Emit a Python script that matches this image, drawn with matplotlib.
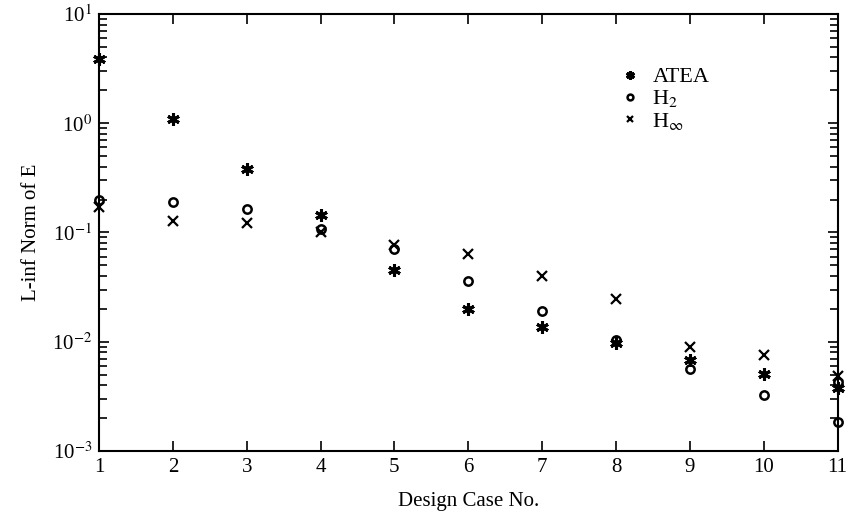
import matplotlib.pyplot as plt
from matplotlib.ticker import LogLocator, NullFormatter

plt.rcParams.update({"font.family": "Liberation Serif", "mathtext.fontset": "stix",
                     "font.size": 15})

cases = [1, 2, 3, 4, 5, 6, 7, 8, 9, 10, 11]
atea = [3.9, 1.09, 0.38, 0.146, 0.045, 0.020, 0.0136, 0.0097, 0.0068, 0.0051, 0.00375]
h2_cases = [1, 2, 3, 4, 5, 6, 7, 8, 9, 10, 11, 11]
h2 = [0.198, 0.191, 0.164, 0.108, 0.0706, 0.036, 0.0191, 0.0104, 0.0056, 0.00324,
      0.0043, 0.00183]
hinf = [0.17, 0.127, 0.123, 0.102, 0.0769, 0.0635, 0.0403, 0.0244, 0.0090, 0.0075, 0.0049]

yticks = [1e-3, 1e-2, 1e-1, 1e0, 1e1]
ytick_labels = ["10$^{\\mathrm{-3}}$", "10$^{\\mathrm{-2}}$", "10$^{\\mathrm{-1}}$",
                "10$^{\\mathrm{0}}$", "10$^{\\mathrm{1}}$"]

fig = plt.figure(figsize=(8.53, 5.26), dpi=100)
ax = fig.add_axes([0.116, 0.1426, 0.866, 0.8308])

ax.plot(cases, atea, linestyle="none", marker=(6, 2, 0), markersize=9,
        markeredgewidth=2.2, color="k", label="ATEA", clip_on=False)
ax.plot(h2_cases, h2, linestyle="none", marker="o", markersize=6, fillstyle="none",
        markeredgewidth=1.8, color="k", label="H$_{2}$", clip_on=False)
ax.plot(cases, hinf, linestyle="none", marker="x", markersize=7,
        markeredgewidth=1.6, color="k", label="H$_{\\infty}$", clip_on=False)

ax.set_yscale("log")
ax.set_xlim(1, 11)
ax.set_ylim(1e-3, 1e1)
ax.set_xticks(cases)
ax.set_yticks(yticks)
ax.set_yticklabels(ytick_labels)
ax.yaxis.set_minor_locator(LogLocator(base=10, subs=range(2, 10)))
ax.yaxis.set_minor_formatter(NullFormatter())
ax.tick_params(which="both", direction="in", top=True, right=True, width=1.2)
ax.tick_params(which="major", length=7, pad=5)
ax.tick_params(which="minor", length=6)
for spine in ax.spines.values():
    spine.set_linewidth(1.5)

ax.set_xlabel("Design Case No.", labelpad=11)
ax.set_ylabel("L-inf Norm of E", labelpad=8)

ax.legend(loc="upper left", bbox_to_anchor=(0.68, 0.925), frameon=False,
          handlelength=0.8, handletextpad=0.6, labelspacing=0.05, markerscale=0.7,
          fontsize=16)

fig.savefig("out.png", dpi=100)
